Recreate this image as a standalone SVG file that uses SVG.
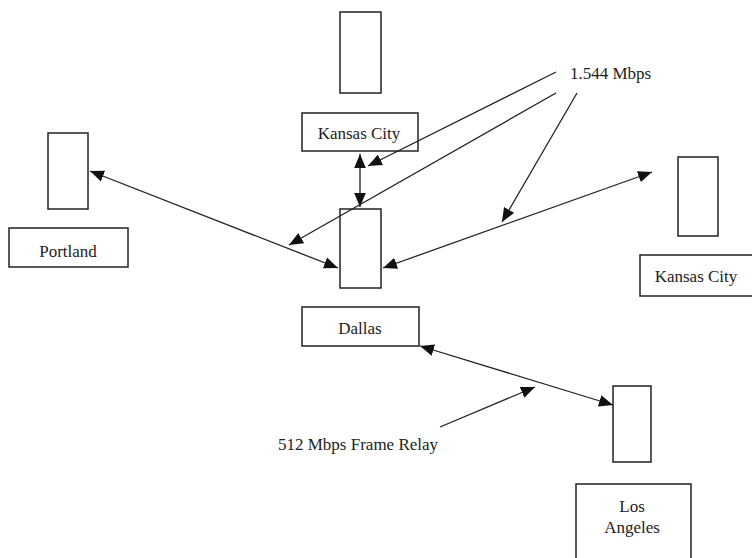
<svg xmlns="http://www.w3.org/2000/svg" width="752" height="558" viewBox="0 0 752 558">
<style>
.dev{fill:#fff;stroke:#222;stroke-width:1.5}
.lbl{fill:#fff;stroke:#222;stroke-width:1.5}
.t{font-family:"Liberation Serif",serif;font-size:17px;fill:#222;text-anchor:middle}
.tl{font-family:"Liberation Serif",serif;font-size:17px;fill:#222}
.c{stroke:#222;stroke-width:1.3;fill:none}
</style>
<defs>
<marker id="ah" viewBox="0 0 12 10" refX="12" refY="5" markerWidth="14" markerHeight="12" markerUnits="userSpaceOnUse" orient="auto-start-reverse">
<path d="M0,0 L12,5 L0,10 Z" fill="#111"/>
</marker>
</defs>
<rect width="752" height="558" fill="#fff"/>
<g id="kc-top">
<rect class="dev" x="340" y="12" width="41" height="81"/>
<rect class="lbl" x="302" y="113" width="116" height="38"/>
<text class="t" x="359" y="139">Kansas City</text>
</g>
<g id="portland">
<rect class="dev" x="48" y="133" width="40" height="76"/>
<rect class="lbl" x="9" y="228" width="119" height="39"/>
<text class="t" x="68" y="257">Portland</text>
</g>
<g id="dallas">
<rect class="dev" x="340" y="209" width="41" height="79"/>
<rect class="lbl" x="302" y="307" width="117" height="39"/>
<text class="t" x="360" y="334">Dallas</text>
</g>
<g id="kc-right">
<rect class="dev" x="678" y="157" width="40" height="79"/>
<rect class="lbl" x="640" y="255" width="115" height="41"/>
<text class="t" x="696" y="282">Kansas City</text>
</g>
<g id="los-angeles">
<rect class="dev" x="613" y="386" width="38" height="76"/>
<rect class="lbl" x="576" y="484" width="115" height="80"/>
<text class="t" x="632" y="512">Los</text>
<text class="t" x="632" y="533">Angeles</text>
</g>
<g id="label-1544">
<text class="tl" x="570" y="79">1.544 Mbps</text>
</g>
<g id="label-512">
<text class="tl" x="278" y="450">512 Mbps Frame Relay</text>
</g>
<g id="connectors">
<line class="c" x1="90" y1="171" x2="338" y2="268" marker-start="url(#ah)" marker-end="url(#ah)"/>
<line class="c" x1="360" y1="154" x2="360" y2="207" marker-start="url(#ah)" marker-end="url(#ah)"/>
<line class="c" x1="383" y1="268" x2="652" y2="172" marker-start="url(#ah)" marker-end="url(#ah)"/>
<line class="c" x1="420" y1="346" x2="613" y2="405" marker-start="url(#ah)" marker-end="url(#ah)"/>
<line class="c" x1="556" y1="72" x2="368" y2="166" marker-end="url(#ah)"/>
<line class="c" x1="556" y1="93" x2="289" y2="245" marker-end="url(#ah)"/>
<line class="c" x1="577" y1="93" x2="502" y2="222" marker-end="url(#ah)"/>
<line class="c" x1="440" y1="427" x2="535" y2="387" marker-end="url(#ah)"/>
</g>
</svg>
